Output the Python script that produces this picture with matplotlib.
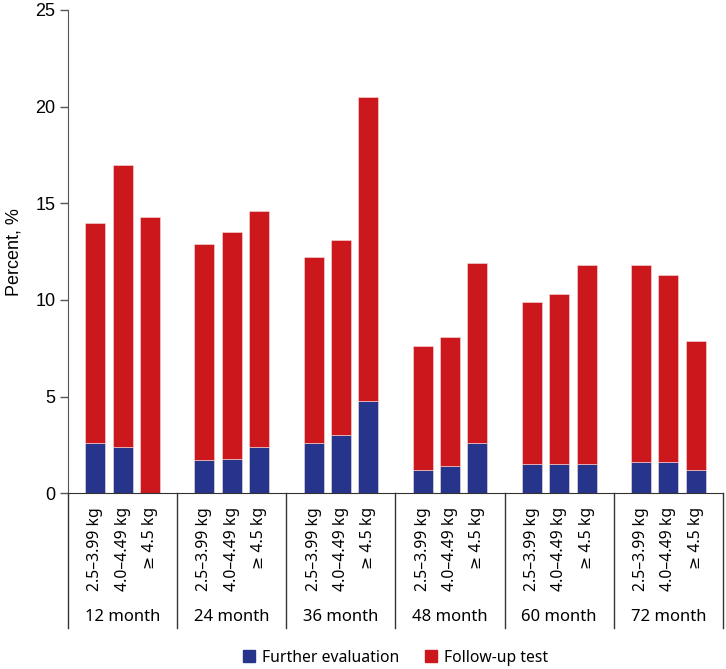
import matplotlib.pyplot as plt
from matplotlib.lines import Line2D
from matplotlib.patches import Patch

# data
groups = ["12 month", "24 month", "36 month", "48 month", "60 month", "72 month"]
weights = ["2.5–3.99 kg", "4.0–4.49 kg", "≥ 4.5 kg"]
further_eval = [2.6, 2.4, 0.0,
                1.7, 1.8, 2.4,
                2.6, 3.0, 4.8,
                1.2, 1.4, 2.6,
                1.5, 1.5, 1.5,
                1.6, 1.6, 1.2]
total = [14.0, 17.0, 14.3,
         12.9, 13.5, 14.6,
         12.2, 13.1, 20.5,
         7.6, 8.1, 11.9,
         9.9, 10.3, 11.8,
         11.8, 11.3, 7.9]
follow_up = [t - f for t, f in zip(total, further_eval)]

blue = "#27348b"
red = "#cc171c"
lab_font = ["Noto Sans", "DejaVu Sans"]
num_font = "Liberation Sans"

fig = plt.figure(figsize=(7.26, 6.69), dpi=100)
ax = fig.add_axes([68/726, 1-493.3/669, 655/726, 483.3/669])

pos = []
labs = []
for g in range(len(groups)):
    for i in range(len(weights)):
        pos.append(g*4 + i + 1)
        labs.append(weights[i])

ax.bar(pos, further_eval, width=0.73, color=blue, edgecolor="#f4e0e0", linewidth=0.4)
ax.bar(pos, follow_up, width=0.73, bottom=further_eval, color=red, edgecolor="#f4e0e0", linewidth=0.4)

ax.set_xlim(0, 24)
ax.set_ylim(0, 25)
ax.set_yticks([0, 5, 10, 15, 20, 25])
ax.tick_params(axis="y", length=6, width=1, color="#555555", labelsize=13, pad=3)
for t in ax.get_yticklabels():
    t.set_fontfamily(num_font)
ax.set_ylabel("Percent, %", fontsize=13, fontfamily=num_font, labelpad=9)

ax.set_xticks(pos)
ax.set_xticklabels(labs, rotation=90, fontsize=11.3, fontfamily=lab_font)
ax.tick_params(axis="x", length=0, pad=10)

for s in ["top", "right"]:
    ax.spines[s].set_visible(False)
ax.spines["left"].set_color("#555555")
ax.spines["bottom"].set_color("#333333")

# group labels and separators below the axis
sep_y = -(628 - 493.3) / 483.3
for g in range(len(groups)):
    ax.annotate(groups[g], xy=(g*4 + 2, 0), xycoords=("data", "axes fraction"),
                xytext=(0, -124*0.72), textcoords="offset points",
                ha="center", va="center", fontsize=12, fontfamily=lab_font)
for g in range(len(groups) + 1):
    ax.add_line(Line2D([g*4, g*4], [0, sep_y], transform=ax.get_xaxis_transform(),
                       color="#333333", lw=1, clip_on=False))

handles = [Patch(color=blue, label="Further evaluation"),
           Patch(color=red, label="Follow-up test")]
fig.legend(handles=handles, loc="center", bbox_to_anchor=(0.545, 0.017), ncol=2,
           frameon=False, handlelength=0.75, handleheight=0.75, handletextpad=0.5,
           columnspacing=1.6, prop={"family": lab_font, "size": 11.3})

fig.savefig("out.png", dpi=100)
